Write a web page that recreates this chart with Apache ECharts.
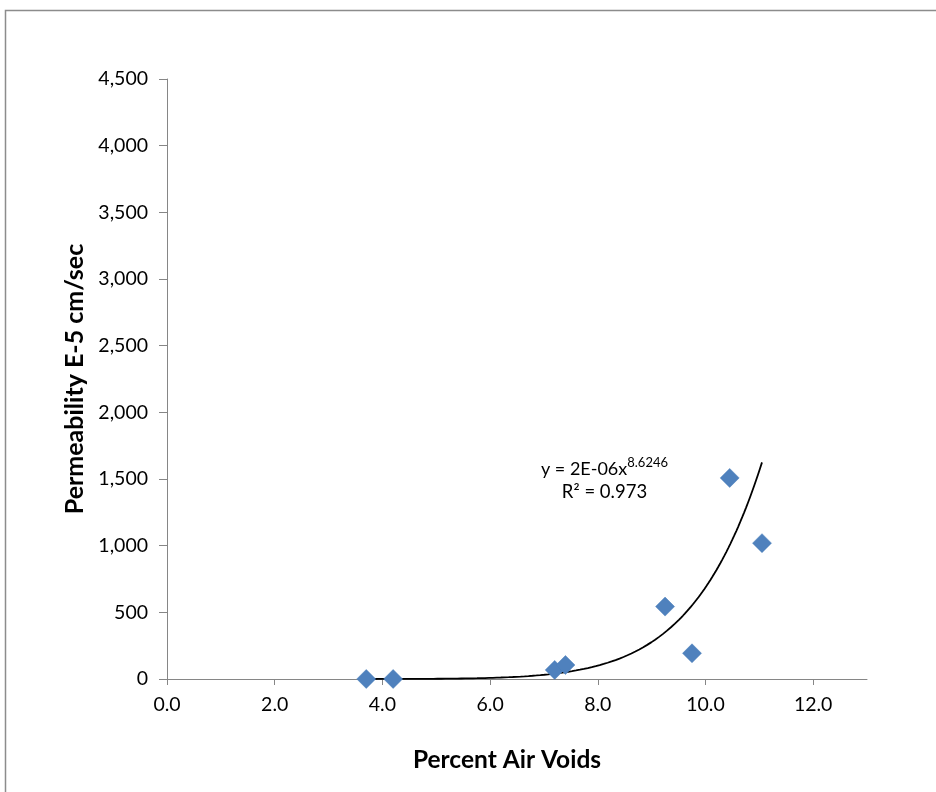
<!DOCTYPE html>
<html>
<head>
<meta charset="utf-8">
<script src="https://cdn.jsdelivr.net/npm/echarts@6/dist/echarts.min.js"></script>
<style>
  html, body { margin: 0; padding: 0; background: #fff; }
  #chart { width: 936px; height: 792px; }
</style>
</head>
<body>
<div id="chart"></div>
<script>
// Measured samples: air voids (%) vs permeability (E-5 cm/sec)
const airVoids = [3.7, 4.2, 7.2, 7.4, 9.25, 9.75, 10.45, 11.05];
const permeability = [0.2, 0.2, 68, 105, 543, 193, 1508, 1019];

// Axis ticks
const xTicks = [0, 2, 4, 6, 8, 10, 12];
const yTicks = [0, 500, 1000, 1500, 2000, 2500, 3000, 3500, 4000, 4500];

// Power trendline y = a * x^b (coefficient shown rounded in the label)
const trendCoef = 1.63e-6;
const trendExp = 8.6246;
const trendLabel = 'y = 2E-06x';
const trendExpLabel = '8.6246';
const r2Label = 'R² = 0.973';

const xFrom = Math.min(...airVoids);
const xTo = Math.max(...airVoids);
const trendPts = [];
for (let i = 0; i <= 200; i++) {
  const x = xFrom + (xTo - xFrom) * i / 200;
  trendPts.push([x, trendCoef * Math.pow(x, trendExp)]);
}

const font = 'Lato, "Open Sans", sans-serif';
const axisGray = '#868686';

const chart = echarts.init(document.getElementById('chart'), null, { renderer: 'canvas' });
chart.setOption({
  animation: false,
  backgroundColor: '#fff',
  grid: { left: 167, right: 69, top: 79, bottom: 113, containLabel: false },
  xAxis: {
    type: 'value', min: 0, max: 13,
    name: 'Percent Air Voids', nameLocation: 'middle', nameGap: 69,
    nameTextStyle: { fontFamily: font, fontWeight: 'bold', fontSize: 24.5, color: '#000', padding: [0, 20, 0, 0] },
    axisLine: { show: true, onZero: false, lineStyle: { color: axisGray, width: 1 } },
    axisTick: { show: true, length: 6, inside: false, customValues: xTicks, lineStyle: { color: axisGray } },
    axisLabel: { customValues: xTicks, fontFamily: font, fontSize: 19.5, color: '#000', margin: 16,
      formatter: v => v.toFixed(1) },
    splitLine: { show: false }
  },
  yAxis: {
    type: 'value', min: 0, max: 4500, interval: 500,
    name: 'Permeability E-5 cm/sec', nameLocation: 'middle', nameGap: 78, nameRotate: 90,
    nameTextStyle: { fontFamily: font, fontWeight: 'bold', fontSize: 25, color: '#000' },
    axisLine: { show: true, lineStyle: { color: axisGray, width: 1 } },
    axisTick: { show: true, length: 8, inside: false, customValues: yTicks, lineStyle: { color: axisGray } },
    axisLabel: { customValues: yTicks, fontFamily: font, fontSize: 19.5, color: '#000', margin: 19,
      formatter: v => v.toLocaleString('en-US') },
    splitLine: { show: false }
  },
  series: [
    {
      type: 'line', data: trendPts, showSymbol: false, smooth: false,
      lineStyle: { color: '#000', width: 1.8 }, z: 2, silent: true
    },
    {
      type: 'scatter', data: airVoids.map((x, i) => [x, permeability[i]]),
      symbol: 'diamond', symbolSize: [19, 19],
      itemStyle: { color: '#4F81BD', borderColor: '#4A7EBB', borderWidth: 0.5, opacity: 1 }, z: 3
    }
  ],
  graphic: [
    { type: 'rect', shape: { x: 5.5, y: 10.5, width: 1000, height: 1000 },
      style: { fill: 'none', stroke: '#8c8c8c', lineWidth: 1.5 }, silent: true, z: 0 },
    { type: 'text', x: 604.5, y: 467,
      style: {
        text: '{b|' + trendLabel + '}{s|' + trendExpLabel + '}',
        align: 'center', verticalAlign: 'middle',
        rich: {
          b: { fontFamily: font, fontSize: 18, fill: '#000', verticalAlign: 'bottom' },
          s: { fontFamily: font, fontSize: 13, fill: '#000', verticalAlign: 'top', padding: [0, 0, 9, 0] }
        }
      }, z: 5 },
    { type: 'text', x: 604.5, y: 492,
      style: { text: r2Label, fontFamily: font, fontSize: 18.5, fill: '#000', align: 'center', verticalAlign: 'middle' },
      z: 5 }
  ]
});
</script>
</body>
</html>
